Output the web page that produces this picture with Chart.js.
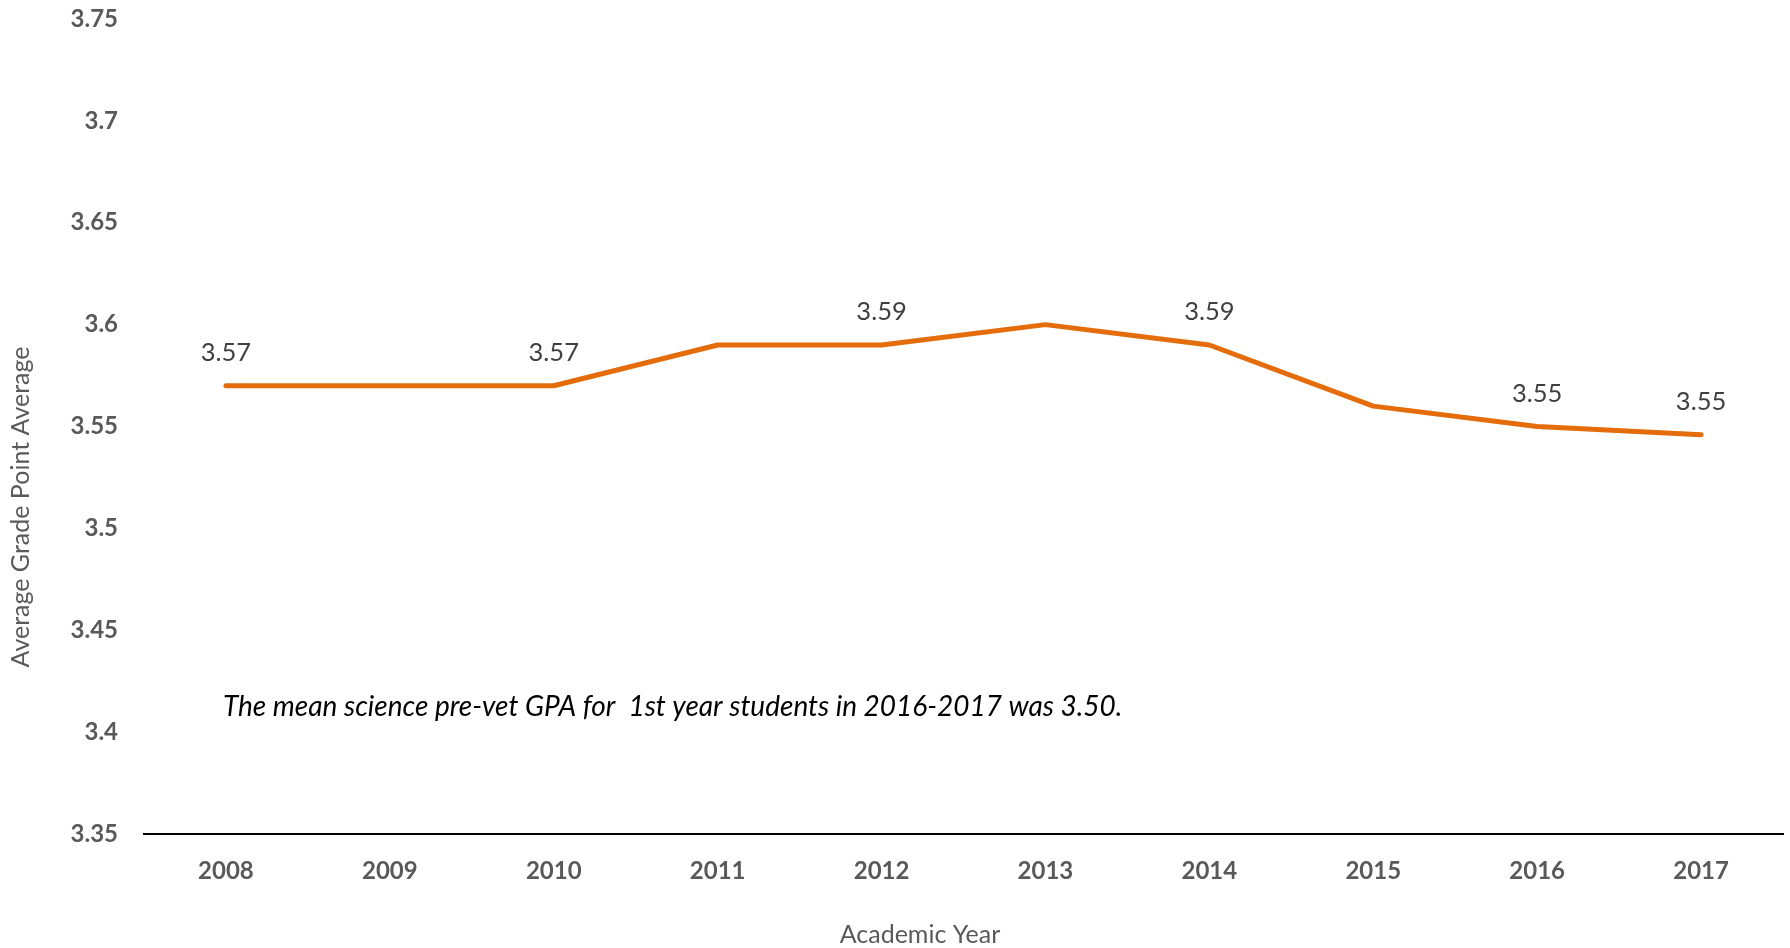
<!DOCTYPE html>
<html>
<head>
<meta charset="utf-8">
<script src="https://cdn.jsdelivr.net/npm/chart.js@4/dist/chart.umd.min.js"></script>
<style>
  html, body { margin: 0; padding: 0; background: #ffffff; }
  #wrap { width: 1790px; height: 948px; }
</style>
</head>
<body>
<div id="wrap"><canvas id="c" width="1790" height="948"></canvas></div>
<script>
// ---- data ----
const years = ['2008', '2009', '2010', '2011', '2012', '2013', '2014', '2015', '2016', '2017'];
const gpaValues = [3.57, 3.57, 3.57, 3.59, 3.59, 3.60, 3.59, 3.56, 3.55, 3.546];
const labeledIndices = [0, 2, 4, 6, 8, 9];
const yMin = 3.35;
const yMax = 3.75;
const yStep = 0.05;
const xTitle = 'Academic Year';
const yTitle = 'Average Grade Point Average';
const noteText = 'The mean science pre-vet GPA for  1st year students in 2016-2017 was 3.50.';
const noteValue = 3.4125;

const FONT = 'Lato, "Open Sans", "DejaVu Sans", sans-serif';

const overlayPlugin = {
  id: 'overlay',
  afterDatasetsDraw(chart) {
    const ctx = chart.ctx;
    const meta = chart.getDatasetMeta(0);
    const xs = chart.scales.x, ys = chart.scales.y;
    ctx.save();
    // data labels
    ctx.font = '400 25.5px ' + FONT;
    ctx.fillStyle = '#404040';
    ctx.textAlign = 'center';
    ctx.textBaseline = 'middle';
    labeledIndices.forEach(i => {
      const pt = meta.data[i];
      ctx.fillText(gpaValues[i].toFixed(2), pt.x, pt.y - 33);
    });
    // note
    ctx.font = 'italic 400 28px ' + FONT;
    ctx.fillStyle = '#000000';
    ctx.textAlign = 'left';
    ctx.fillText(noteText, xs.getPixelForValue(0) - 3, ys.getPixelForValue(noteValue));
    // axis titles
    ctx.font = '400 25px ' + FONT;
    ctx.fillStyle = '#595959';
    ctx.textAlign = 'center';
    ctx.fillText(xTitle, 920, 935);
    ctx.translate(21, 507);
    ctx.rotate(-Math.PI / 2);
    ctx.fillText(yTitle, 0, 0);
    ctx.restore();
  }
};

new Chart(document.getElementById('c'), {
  type: 'line',
  data: {
    labels: years,
    datasets: [{
      data: gpaValues,
      borderColor: '#E46C0A',
      borderWidth: 5,
      borderCapStyle: 'round',
      borderJoinStyle: 'round',
      pointRadius: 0,
      pointHoverRadius: 0,
      tension: 0,
      fill: false
    }]
  },
  options: {
    responsive: false,
    animation: false,
    devicePixelRatio: 1,
    layout: { padding: { top: 0, right: 7, left: 0, bottom: 0 } },
    plugins: { legend: { display: false }, tooltip: { enabled: false } },
    scales: {
      x: {
        type: 'category',
        offset: true,
        grid: { display: false, drawTicks: false },
        border: { display: true, color: '#000000', width: 2 },
        ticks: {
          font: { family: FONT, size: 24, weight: 'bold' },
          color: '#595959',
          padding: 23,
          maxRotation: 0,
          autoSkip: false
        },
        afterFit(scale) { scale.height = 114; }
      },
      y: {
        min: yMin,
        max: yMax,
        grid: { display: false, drawTicks: false },
        border: { display: false },
        ticks: {
          stepSize: yStep,
          font: { family: FONT, size: 24, weight: 'bold' },
          color: '#595959',
          padding: 26,
          callback: v => String(Number(v.toFixed(2)))
        },
        afterFit(scale) { scale.width = 144; scale.paddingTop = 19; scale.paddingBottom = 0; }
      }
    }
  },
  plugins: [overlayPlugin]
});
</script>
</body>
</html>
